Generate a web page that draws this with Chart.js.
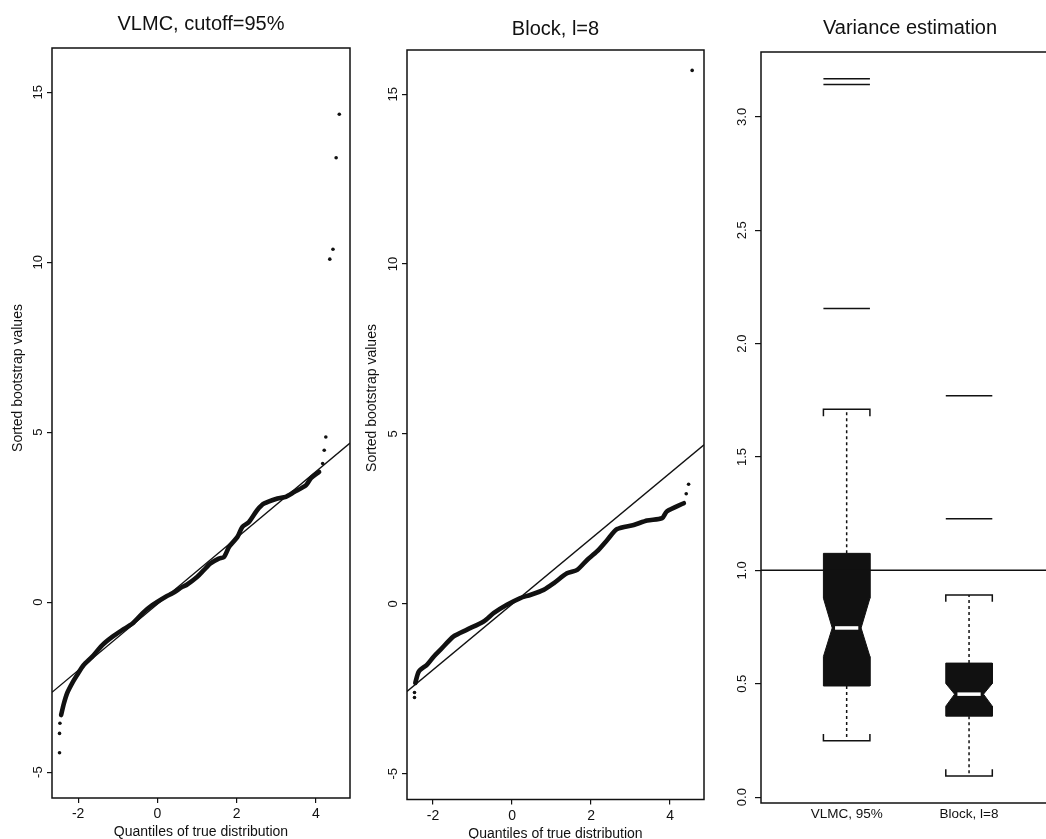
<!DOCTYPE html>
<html>
<head>
<meta charset="utf-8">
<title>Bootstrap QQ plots and variance estimation</title>
<script src="https://cdn.jsdelivr.net/npm/chart.js@4/dist/chart.umd.min.js"></script>
<style>
  html, body { margin: 0; padding: 0; background: #fff; }
  body { width: 1046px; height: 839px; overflow: hidden; position: relative; }
  canvas { position: absolute; display: block; }
  #qqVlmc { left: 0; top: 0; }
  #qqBlock { left: 355px; top: 2px; }
  #varBox { left: 709px; top: 0; }
</style>
</head>
<body>
<canvas id="qqVlmc" width="370" height="839"></canvas>
<canvas id="qqBlock" width="365" height="839"></canvas>
<canvas id="varBox" width="360" height="839"></canvas>
<script>
// ---------- data ----------
const qqTicksX = [-2, 0, 2, 4];
const qqTicksY = [-5, 0, 5, 10, 15];

// VLMC bootstrap, cutoff 95%: dense body of the QQ curve
const vlmcQuantiles = [-2.43, -2.36, -2.28, -2.15, -2.03, -1.86, -1.65, -1.39, -1.14, -0.89, -0.63, -0.38, -0.13, 0.21, 0.38, 0.63, 0.75, 1.0, 1.17, 1.34, 1.55, 1.68, 1.81, 2.02, 2.14, 2.31, 2.52, 2.69, 3.03, 3.24, 3.45, 3.75, 3.87, 4.08];
const vlmcSorted    = [-3.32, -2.98, -2.68, -2.38, -2.15, -1.85, -1.61, -1.26, -1.02, -0.82, -0.63, -0.33, -0.09, 0.16, 0.26, 0.45, 0.52, 0.74, 0.94, 1.14, 1.28, 1.33, 1.63, 1.92, 2.21, 2.36, 2.71, 2.90, 3.05, 3.10, 3.24, 3.44, 3.64, 3.83];
// isolated values in the tails
const vlmcTailQuantiles = [-2.47, -2.47, -2.46, 4.17, 4.21, 4.25, 4.35, 4.43, 4.51, 4.59];
const vlmcTailValues    = [-4.43, -3.86, -3.56, 4.08, 4.47, 4.86, 10.09, 10.38, 13.07, 14.35];
const vlmcLineX = [-2.66, 4.86];
const vlmcLineY = [-2.65, 4.68];

// Block bootstrap, l=8
const blockQuantiles = [-2.45, -2.36, -2.15, -1.98, -1.81, -1.48, -1.14, -0.72, -0.46, -0.13, 0.21, 0.46, 0.80, 1.06, 1.39, 1.65, 1.90, 2.15, 2.41, 2.66, 3.08, 3.42, 3.80, 3.92, 4.35];
const blockSorted    = [-2.33, -1.99, -1.79, -1.55, -1.35, -0.96, -0.76, -0.52, -0.27, -0.03, 0.17, 0.26, 0.41, 0.61, 0.90, 1.00, 1.29, 1.54, 1.88, 2.20, 2.32, 2.45, 2.52, 2.72, 2.96];
const blockTailQuantiles = [-2.47, -2.47, 4.41, 4.47, 4.56];
const blockTailValues    = [-2.76, -2.61, 3.24, 3.52, 15.7];
const blockLineX = [-2.66, 4.86];
const blockLineY = [-2.58, 4.68];

// Variance estimation: notched boxplots
const boxNames     = ['VLMC, 95%', 'Block, l=8'];
const boxQ1        = [0.49, 0.357];
const boxMedian    = [0.746, 0.454];
const boxQ3        = [1.075, 0.591];
const notchLow     = [0.620, 0.401];
const notchHigh    = [0.877, 0.501];
const whiskerLow   = [0.248, 0.093];
const whiskerHigh  = [1.710, 0.891];
const boxOutliers  = [[2.155, 3.143, 3.168], [1.228, 1.770]];
const varTicksY    = [0, 0.5, 1, 1.5, 2, 2.5, 3];
const trueVariance = 1.0;

// ---------- styling ----------
const INK = '#111';
const FONT = "'Liberation Sans', Arial, Helvetica, sans-serif";
Chart.defaults.font.family = FONT;
Chart.defaults.color = INK;
Chart.defaults.animation = false;

const zip = (xs, ys) => xs.map((x, i) => ({ x, y: ys[i] }));

// box around the plotting region
const framePlugin = {
  id: 'frame',
  afterDatasetsDraw(chart) {
    const { ctx, chartArea: a } = chart;
    ctx.save();
    ctx.strokeStyle = INK;
    ctx.lineWidth = 1.5;
    ctx.strokeRect(a.left, a.top, a.right - a.left, a.bottom - a.top);
    ctx.restore();
  }
};

// vertical axis label, placed a little above the middle of the frame
const sideLabelPlugin = {
  id: 'sideLabel',
  afterDraw(chart, args, opts) {
    if (!opts || !opts.text) return;
    const { ctx } = chart;
    ctx.save();
    ctx.font = '14px ' + FONT;
    ctx.fillStyle = INK;
    ctx.textAlign = 'center';
    ctx.textBaseline = 'middle';
    ctx.translate(opts.x, opts.y);
    ctx.rotate(-Math.PI / 2);
    ctx.fillText(opts.text, 0, 0);
    ctx.restore();
  }
};

function tickGrid(len) {
  return { display: true, drawOnChartArea: false, drawTicks: true, tickLength: len, color: INK, lineWidth: 1.2 };
}

function qqChart(id, titleText, titlePad, yTickPad, sideLabelPos, axisHeight, padRight, curveX, curveY, tailX, tailY, lineX, lineY) {
  return new Chart(document.getElementById(id), {
    type: 'scatter',
    data: {
      datasets: [
        { type: 'line', data: zip(lineX, lineY), borderColor: INK, borderWidth: 1.3, pointRadius: 0, fill: false, tension: 0 },
        { type: 'line', data: zip(curveX, curveY), borderColor: INK, borderWidth: 4.6, pointRadius: 0, fill: false,
          tension: 0.25, borderJoinStyle: 'round', borderCapStyle: 'round' },
        { data: zip(tailX, tailY), pointRadius: 1.8, pointBackgroundColor: INK, pointBorderWidth: 0, showLine: false }
      ]
    },
    options: {
      responsive: false,
      layout: { padding: { left: 0, right: padRight, top: 0, bottom: 0 } },
      plugins: {
        legend: { display: false },
        tooltip: { enabled: false },
        title: { display: true, text: titleText, fullSize: false, color: INK,
                 font: { size: 20, weight: 'normal', lineHeight: 1.2 }, padding: titlePad },
        sideLabel: { text: 'Sorted bootstrap values', x: sideLabelPos[0], y: sideLabelPos[1] }
      },
      scales: {
        x: {
          type: 'linear', min: -2.66, max: 4.86,
          afterBuildTicks: s => { s.ticks = qqTicksX.map(v => ({ value: v })); },
          afterFit: s => { s.height = axisHeight; },
          grid: tickGrid(5),
          border: { display: false },
          ticks: { autoSkip: false, maxRotation: 0, padding: 3, color: INK, font: { size: 14 }, callback: v => String(v) },
          title: { display: true, text: 'Quantiles of true distribution', color: INK,
                   font: { size: 14, lineHeight: 1 }, padding: { top: 0, bottom: 0 } }
        },
        y: {
          type: 'linear', min: -5.76, max: 16.3,
          afterBuildTicks: s => { s.ticks = qqTicksY.map(v => ({ value: v })); },
          afterFit: s => { s.width = 52; },
          grid: tickGrid(5),
          border: { display: false },
          ticks: { autoSkip: false, minRotation: 90, maxRotation: 90, crossAlign: 'center', padding: yTickPad,
                   color: INK, font: { size: 13 }, callback: v => String(v) }
        }
      }
    },
    plugins: [framePlugin, sideLabelPlugin]
  });
}

qqChart('qqVlmc', 'VLMC, cutoff=95%', { top: 12, bottom: 12 }, 1.0, [18, 378], 41, 20,
        vlmcQuantiles, vlmcSorted, vlmcTailQuantiles, vlmcTailValues, vlmcLineX, vlmcLineY);
qqChart('qqBlock', 'Block, l=8', { top: 15, bottom: 9 }, 1.5, [17, 396], 41.5, 16,
        blockQuantiles, blockSorted, blockTailQuantiles, blockTailValues, blockLineX, blockLineY);

// ---------- notched boxplots ----------
const BOX_HALF = 0.19;      // half box width in category units
const NOTCH_INSET = 0.072;  // notch depth at the median
const MEDIAN_HALF = 0.095;  // half length of the median bar
const CAP_DROP = 0.03;      // staple end length in value units
const VAR_X_MIN = 0.30, VAR_X_MAX = 2.735;

// datasets with a larger `order` are painted first (underneath)
const boxSets = [];
boxNames.forEach((name, i) => {
  const c = i + 1, w = BOX_HALF, n = NOTCH_INSET;
  const outline = [
    { x: c - w, y: boxQ1[i] }, { x: c - w, y: notchLow[i] }, { x: c - w + n, y: boxMedian[i] },
    { x: c - w, y: notchHigh[i] }, { x: c - w, y: boxQ3[i] }, { x: c + w, y: boxQ3[i] },
    { x: c + w, y: notchHigh[i] }, { x: c + w - n, y: boxMedian[i] }, { x: c + w, y: notchLow[i] },
    { x: c + w, y: boxQ1[i] }, { x: c - w, y: boxQ1[i] }
  ];
  boxSets.push({ type: 'line', order: 5, data: outline, borderColor: INK, backgroundColor: INK, borderWidth: 1,
                 fill: 'shape', pointRadius: 0, tension: 0 });
  boxSets.push({ type: 'line', order: 1, data: [{ x: c - MEDIAN_HALF, y: boxMedian[i] }, { x: c + MEDIAN_HALF, y: boxMedian[i] }],
                 borderColor: '#fff', borderWidth: 3.5, pointRadius: 0, fill: false });
  // whiskers
  boxSets.push({ type: 'line', order: 6, data: [{ x: c, y: boxQ3[i] }, { x: c, y: whiskerHigh[i] }, { x: c, y: null },
                                      { x: c, y: boxQ1[i] }, { x: c, y: whiskerLow[i] }],
                 borderColor: INK, borderWidth: 1.5, borderDash: [3, 3], pointRadius: 0, fill: false, spanGaps: false });
  // staples
  boxSets.push({ type: 'line', order: 6, data: [
      { x: c - w, y: whiskerHigh[i] - CAP_DROP }, { x: c - w, y: whiskerHigh[i] }, { x: c + w, y: whiskerHigh[i] }, { x: c + w, y: whiskerHigh[i] - CAP_DROP },
      { x: c, y: null },
      { x: c - w, y: whiskerLow[i] + CAP_DROP }, { x: c - w, y: whiskerLow[i] }, { x: c + w, y: whiskerLow[i] }, { x: c + w, y: whiskerLow[i] + CAP_DROP }
    ], borderColor: INK, borderWidth: 1.5, pointRadius: 0, fill: false, spanGaps: false });
  // outlying values as short bars
  const outs = [];
  boxOutliers[i].forEach(v => { outs.push({ x: c - w, y: v }, { x: c + w, y: v }, { x: c, y: null }); });
  boxSets.push({ type: 'line', order: 6, data: outs, borderColor: INK, borderWidth: 1.5, pointRadius: 0, fill: false, spanGaps: false });
});
boxSets.push({ type: 'line', order: 4, data: [{ x: VAR_X_MIN, y: trueVariance }, { x: VAR_X_MAX, y: trueVariance }],
               borderColor: INK, borderWidth: 1.5, pointRadius: 0, fill: false });

new Chart(document.getElementById('varBox'), {
  type: 'scatter',
  data: { datasets: boxSets },
  options: {
    responsive: false,
    layout: { padding: { left: 0, right: 10, top: 0, bottom: 0 } },
    plugins: {
      legend: { display: false },
      tooltip: { enabled: false },
      title: { display: true, text: 'Variance estimation', fullSize: false, color: INK,
               font: { size: 20, weight: 'normal', lineHeight: 1.2 }, padding: { top: 16, bottom: 12 } }
    },
    scales: {
      x: {
        type: 'linear', min: VAR_X_MIN, max: VAR_X_MAX,
        afterBuildTicks: s => { s.ticks = boxNames.map((_, i) => ({ value: i + 1 })); },
        afterFit: s => { s.height = 36; },
        grid: { display: false, drawTicks: false },
        border: { display: false },
        ticks: { autoSkip: false, maxRotation: 0, padding: 3, color: INK, font: { size: 13.5 },
                 callback: v => boxNames[Math.round(v) - 1] }
      },
      y: {
        type: 'linear', min: -0.026, max: 3.286,
        afterBuildTicks: s => { s.ticks = varTicksY.map(v => ({ value: v })); },
        afterFit: s => { s.width = 52; },
        grid: tickGrid(6),
        border: { display: false },
        ticks: { autoSkip: false, minRotation: 90, maxRotation: 90, crossAlign: 'center', padding: 3.5,
                 color: INK, font: { size: 13 }, callback: v => v.toFixed(1) }
      }
    }
  },
  plugins: [framePlugin]
});
</script>
</body>
</html>
